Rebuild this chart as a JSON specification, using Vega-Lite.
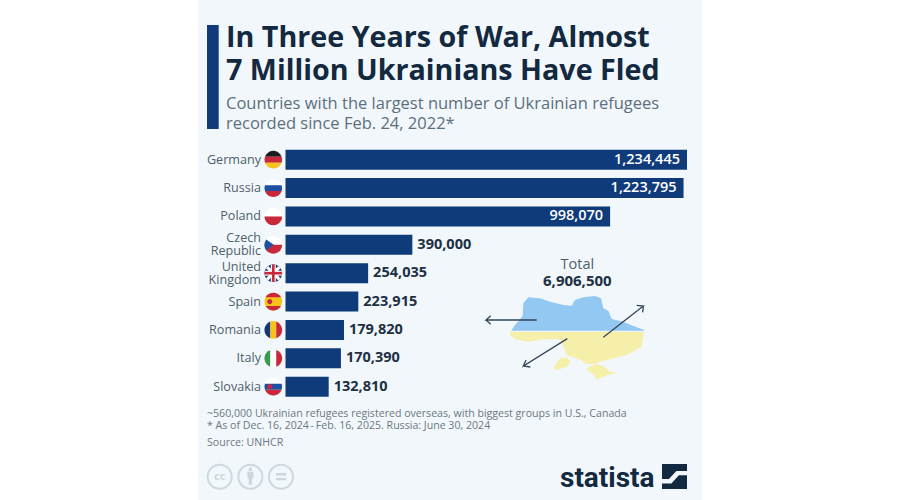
{
  "$schema": "https://vega.github.io/schema/vega-lite/v6.json",
  "autosize": "none",
  "padding": {"left": 198, "right": 198, "top": 0, "bottom": 0},
  "width": 504,
  "height": 500,
  "background": "#ffffff",
  "config": {
    "view": {"fill": "#f1f7fb", "stroke": null},
    "text": {"font": "Open Sans"},
    "axis": {"labelFont": "Open Sans"}
  },
  "title": {
    "text": ["In Three Years of War, Almost", "7 Million Ukrainians Have Fled"],
    "subtitle": ["Countries with the largest number of Ukrainian refugees", "recorded since Feb. 24, 2022*"],
    "anchor": "start",
    "frame": "group",
    "dx": 28,
    "offset": -132.5,
    "font": "Open Sans",
    "fontSize": 28.7,
    "fontWeight": 700,
    "color": "#13293f",
    "lineHeight": 33,
    "subtitleFont": "Open Sans",
    "subtitleFontSize": 16.5,
    "subtitleColor": "#5d6f7c",
    "subtitleLineHeight": 20.5,
    "subtitlePadding": 10
  },
  "datasets": {
    "countries": [
      {"country": "Germany", "label": "Germany", "refugees": 1234445},
      {"country": "Russia", "label": "Russia", "refugees": 1223795},
      {"country": "Poland", "label": "Poland", "refugees": 998070},
      {"country": "Czech Republic", "label": "Czech\nRepublic", "refugees": 390000},
      {"country": "United Kingdom", "label": "United\nKingdom", "refugees": 254035},
      {"country": "Spain", "label": "Spain", "refugees": 223915},
      {"country": "Romania", "label": "Romania", "refugees": 179820},
      {"country": "Italy", "label": "Italy", "refugees": 170390},
      {"country": "Slovakia", "label": "Slovakia", "refugees": 132810}
    ],
    "flags": [
      {"country": "Germany", "part": "hTop", "tint": "black"},
      {"country": "Germany", "part": "hMid", "tint": "red"},
      {"country": "Germany", "part": "hBot", "tint": "gold"},
      {"country": "Russia", "part": "hTop", "tint": "white"},
      {"country": "Russia", "part": "hMid", "tint": "blue"},
      {"country": "Russia", "part": "hBot", "tint": "red"},
      {"country": "Poland", "part": "upper", "tint": "white"},
      {"country": "Poland", "part": "lower", "tint": "red"},
      {"country": "Czech Republic", "part": "upper", "tint": "white"},
      {"country": "Czech Republic", "part": "lower", "tint": "red"},
      {"country": "Czech Republic", "part": "wedge", "tint": "blue"},
      {"country": "United Kingdom", "part": "disc", "tint": "navy"},
      {"country": "United Kingdom", "part": "diagA", "tint": "white"},
      {"country": "United Kingdom", "part": "diagB", "tint": "white"},
      {"country": "United Kingdom", "part": "crossWideV", "tint": "white"},
      {"country": "United Kingdom", "part": "crossWideH", "tint": "white"},
      {"country": "United Kingdom", "part": "crossV", "tint": "red"},
      {"country": "United Kingdom", "part": "crossH", "tint": "red"},
      {"country": "Spain", "part": "disc", "tint": "gold"},
      {"country": "Spain", "part": "capTop", "tint": "red"},
      {"country": "Spain", "part": "capBot", "tint": "red"},
      {"country": "Spain", "part": "crest", "tint": "red"},
      {"country": "Romania", "part": "vLeft", "tint": "navy"},
      {"country": "Romania", "part": "vMid", "tint": "gold"},
      {"country": "Romania", "part": "vRight", "tint": "red"},
      {"country": "Italy", "part": "vLeft", "tint": "green"},
      {"country": "Italy", "part": "vMid", "tint": "white"},
      {"country": "Italy", "part": "vRight", "tint": "red"},
      {"country": "Slovakia", "part": "hTop", "tint": "white"},
      {"country": "Slovakia", "part": "hMid", "tint": "blue"},
      {"country": "Slovakia", "part": "hBot", "tint": "red"},
      {"country": "Slovakia", "part": "crest", "tint": "red"}
    ],
    "ukraine": [
      {"part": "north", "region": "blue", "mapX": 155, "edgeA": 272, "edgeB": 270},
      {"part": "north", "region": "blue", "mapX": 165, "edgeA": 272, "edgeB": 255},
      {"part": "north", "region": "blue", "mapX": 180, "edgeA": 272, "edgeB": 238},
      {"part": "north", "region": "blue", "mapX": 188, "edgeA": 272, "edgeB": 228},
      {"part": "north", "region": "blue", "mapX": 190, "edgeA": 272, "edgeB": 190},
      {"part": "north", "region": "blue", "mapX": 205, "edgeA": 272, "edgeB": 172},
      {"part": "north", "region": "blue", "mapX": 240, "edgeA": 272, "edgeB": 175},
      {"part": "north", "region": "blue", "mapX": 270, "edgeA": 272, "edgeB": 185},
      {"part": "north", "region": "blue", "mapX": 310, "edgeA": 272, "edgeB": 195},
      {"part": "north", "region": "blue", "mapX": 335, "edgeA": 272, "edgeB": 197},
      {"part": "north", "region": "blue", "mapX": 345, "edgeA": 272, "edgeB": 180},
      {"part": "north", "region": "blue", "mapX": 370, "edgeA": 272, "edgeB": 172},
      {"part": "north", "region": "blue", "mapX": 405, "edgeA": 272, "edgeB": 168},
      {"part": "north", "region": "blue", "mapX": 423, "edgeA": 272, "edgeB": 175},
      {"part": "north", "region": "blue", "mapX": 430, "edgeA": 272, "edgeB": 205},
      {"part": "north", "region": "blue", "mapX": 445, "edgeA": 272, "edgeB": 212},
      {"part": "north", "region": "blue", "mapX": 455, "edgeA": 272, "edgeB": 237},
      {"part": "north", "region": "blue", "mapX": 490, "edgeA": 272, "edgeB": 245},
      {"part": "north", "region": "blue", "mapX": 520, "edgeA": 272, "edgeB": 258},
      {"part": "north", "region": "blue", "mapX": 553, "edgeA": 272, "edgeB": 270},
      {"part": "south", "region": "yellow", "mapX": 150, "edgeA": 275, "edgeB": 285},
      {"part": "south", "region": "yellow", "mapX": 165, "edgeA": 275, "edgeB": 298},
      {"part": "south", "region": "yellow", "mapX": 205, "edgeA": 275, "edgeB": 305},
      {"part": "south", "region": "yellow", "mapX": 250, "edgeA": 275, "edgeB": 298},
      {"part": "south", "region": "yellow", "mapX": 300, "edgeA": 275, "edgeB": 298},
      {"part": "south", "region": "yellow", "mapX": 310, "edgeA": 275, "edgeB": 320},
      {"part": "south", "region": "yellow", "mapX": 320, "edgeA": 275, "edgeB": 345},
      {"part": "south", "region": "yellow", "mapX": 365, "edgeA": 275, "edgeB": 362},
      {"part": "south", "region": "yellow", "mapX": 378, "edgeA": 275, "edgeB": 372},
      {"part": "south", "region": "yellow", "mapX": 400, "edgeA": 275, "edgeB": 372},
      {"part": "south", "region": "yellow", "mapX": 440, "edgeA": 275, "edgeB": 360},
      {"part": "south", "region": "yellow", "mapX": 500, "edgeA": 275, "edgeB": 345},
      {"part": "south", "region": "yellow", "mapX": 545, "edgeA": 275, "edgeB": 320},
      {"part": "south", "region": "yellow", "mapX": 552, "edgeA": 275, "edgeB": 275},
      {"part": "odessa", "region": "yellow", "mapX": 282, "edgeA": 380, "edgeB": 390},
      {"part": "odessa", "region": "yellow", "mapX": 300, "edgeA": 355, "edgeB": 387},
      {"part": "odessa", "region": "yellow", "mapX": 320, "edgeA": 352, "edgeB": 380},
      {"part": "odessa", "region": "yellow", "mapX": 332, "edgeA": 365, "edgeB": 365},
      {"part": "crimea", "region": "yellow", "mapX": 380, "edgeA": 385, "edgeB": 388},
      {"part": "crimea", "region": "yellow", "mapX": 405, "edgeA": 372, "edgeB": 408},
      {"part": "crimea", "region": "yellow", "mapX": 408, "edgeA": 372, "edgeB": 420},
      {"part": "crimea", "region": "yellow", "mapX": 430, "edgeA": 378, "edgeB": 410},
      {"part": "crimea", "region": "yellow", "mapX": 450, "edgeA": 395, "edgeB": 403},
      {"part": "crimea", "region": "yellow", "mapX": 467, "edgeA": 397, "edgeB": 400}
    ],
    "arrows": [
      {"arrow": "west", "seq": 1, "mapX": 230, "mapY": 240},
      {"arrow": "west", "seq": 2, "mapX": 78, "mapY": 240},
      {"arrow": "west", "seq": 3, "mapX": 92, "mapY": 227},
      {"arrow": "west", "seq": 4, "mapX": 78, "mapY": 240},
      {"arrow": "west", "seq": 5, "mapX": 92, "mapY": 253},
      {"arrow": "northeast", "seq": 1, "mapX": 430, "mapY": 292},
      {"arrow": "northeast", "seq": 2, "mapX": 550, "mapY": 198},
      {"arrow": "northeast", "seq": 3, "mapX": 530, "mapY": 196},
      {"arrow": "northeast", "seq": 4, "mapX": 550, "mapY": 198},
      {"arrow": "northeast", "seq": 5, "mapX": 548, "mapY": 217},
      {"arrow": "southwest", "seq": 1, "mapX": 322, "mapY": 296},
      {"arrow": "southwest", "seq": 2, "mapX": 190, "mapY": 378},
      {"arrow": "southwest", "seq": 3, "mapX": 198, "mapY": 360},
      {"arrow": "southwest", "seq": 4, "mapX": 190, "mapY": 378},
      {"arrow": "southwest", "seq": 5, "mapX": 211, "mapY": 381}
    ],
    "badges": [
      {"badge": "cc", "part": "ring"},
      {"badge": "by", "part": "ring"},
      {"badge": "nd", "part": "ring"},
      {"badge": "by", "part": "person"},
      {"badge": "nd", "part": "equals"}
    ],
    "logo": [
      {"part": "square", "tint": "navy"},
      {"part": "slash", "tint": "paper"}
    ]
  },
  "layer": [
    {
      "data": {"values": [{}]},
      "layer": [
        {
          "mark": {"type": "rect", "color": "#0f3b7a"},
          "encoding": {
            "x": {"datum": 9, "type": "quantitative", "scale": {"domain": [0, 504], "range": [0, 504], "nice": false}, "axis": null},
            "x2": {"datum": 20.7},
            "y": {"datum": 25, "type": "quantitative", "scale": {"domain": [0, 500], "range": [0, 500], "nice": false}, "axis": null},
            "y2": {"datum": 129}
          }
        },
        {
          "mark": {"type": "text", "align": "left", "fontSize": 10.6, "color": "#6b7882", "lineBreak": "\n", "lineHeight": 12.8, "baseline": "alphabetic"},
          "encoding": {
            "x": {"datum": 9, "type": "quantitative"},
            "y": {"datum": 416.7, "type": "quantitative"},
            "text": {"value": "~560,000 Ukrainian refugees registered overseas, with biggest groups in U.S., Canada\n* As of Dec. 16, 2024\u2009-\u2009Feb. 16, 2025. Russia: June 30, 2024"}
          }
        },
        {
          "mark": {"type": "text", "align": "left", "fontSize": 10.6, "color": "#6b7882", "baseline": "alphabetic"},
          "encoding": {
            "x": {"datum": 9, "type": "quantitative"},
            "y": {"datum": 445.7, "type": "quantitative"},
            "text": {"value": "Source: UNHCR"}
          }
        },
        {
          "mark": {"type": "text", "align": "left", "font": "Roboto", "fontWeight": 700, "fontSize": 28, "color": "#13293f", "baseline": "alphabetic"},
          "encoding": {
            "x": {"datum": 362, "type": "quantitative"},
            "y": {"datum": 487, "type": "quantitative"},
            "text": {"value": "statista"}
          }
        },
        {
          "mark": {"type": "text", "align": "center", "fontWeight": 700, "fontSize": 11, "color": "#cdd8de", "baseline": "middle"},
          "encoding": {
            "x": {"datum": 21.7, "type": "quantitative"},
            "y": {"datum": 476.7, "type": "quantitative"},
            "text": {"value": "cc"}
          }
        }
      ]
    },
    {
      "data": {"name": "badges"},
      "mark": {"type": "point", "size": 576, "opacity": 1, "strokeWidth": 2},
      "transform": [{"filter": "datum.part == 'ring'"}],
      "encoding": {
        "x": {"field": "badge", "type": "nominal", "scale": {"type": "point", "domain": ["cc", "by", "nd"], "range": [21.7, 83], "padding": 0}, "axis": null},
        "y": {"datum": 476.7, "type": "quantitative", "scale": {"domain": [0, 500], "range": [0, 500], "nice": false}, "axis": null},
        "color": {"value": "#cdd8de"}
      }
    },
    {
      "data": {"name": "badges"},
      "mark": {"type": "point", "size": 576, "filled": true, "opacity": 1},
      "transform": [{"filter": "datum.part != 'ring'"}],
      "encoding": {
        "x": {"field": "badge", "type": "nominal", "scale": {"type": "point", "domain": ["cc", "by", "nd"], "range": [21.7, 83], "padding": 0}, "axis": null},
        "y": {"datum": 476.7, "type": "quantitative", "scale": {"domain": [0, 500], "range": [0, 500], "nice": false}, "axis": null},
        "shape": {
          "field": "part",
          "type": "nominal",
          "legend": null,
          "scale": {
            "domain": ["person", "equals"],
            "range": [
              "M-.14,-.62L-.1,-.74L0,-.78L.1,-.74L.14,-.62L.1,-.5L0,-.46L-.1,-.5ZM-.25,-.42H.25V.12H.14V.68H-.14V.12H-.25Z",
              "M-.42,-.3H.42V-.1H-.42ZM-.42,.1H.42V.3H-.42Z"
            ]
          }
        },
        "color": {"value": "#cdd8de"}
      }
    },
    {
      "data": {"name": "logo"},
      "mark": {"type": "point", "size": 625, "filled": true, "opacity": 1},
      "encoding": {
        "x": {"datum": 476.5, "type": "quantitative", "scale": {"domain": [0, 504], "range": [0, 504], "nice": false}, "axis": null},
        "y": {"datum": 476.5, "type": "quantitative", "scale": {"domain": [0, 500], "range": [0, 500], "nice": false}, "axis": null},
        "shape": {
          "field": "part",
          "type": "nominal",
          "legend": null,
          "scale": {
            "domain": ["square", "slash"],
            "range": ["M-1,-1H1V1H-1Z", "M-1,.55H-.25L.35,-.1H1V-.45H.15L-.45,.2H-1Z"]
          }
        },
        "color": {
          "field": "tint",
          "type": "nominal",
          "legend": null,
          "scale": {"domain": ["navy", "paper"], "range": ["#13293f", "#f1f7fb"]}
        }
      }
    },
    {
      "data": {"name": "countries"},
      "encoding": {
        "x": {"field": "refugees", "type": "quantitative", "scale": {"domain": [0, 1234445], "range": [87.5, 489], "nice": false}, "axis": null},
        "y": {
          "field": "country",
          "type": "nominal",
          "sort": null,
          "axis": null,
          "scale": {
            "domain": ["Germany", "Russia", "Poland", "Czech Republic", "United Kingdom", "Spain", "Romania", "Italy", "Slovakia"],
            "range": [149.7, 396.7],
            "paddingInner": 0.295,
            "paddingOuter": 0
          }
        }
      },
      "layer": [
        {"mark": {"type": "bar", "color": "#0f3b7a"}, "encoding": {"x2": {"datum": 0}}},
        {
          "transform": [{"filter": "datum.refugees > 500000"}],
          "mark": {"type": "text", "align": "right", "dx": -7, "fontWeight": 600, "fontSize": 14.5, "color": "#ffffff"},
          "encoding": {"text": {"field": "refugees", "type": "quantitative", "format": ","}}
        },
        {
          "transform": [{"filter": "datum.refugees < 500000"}],
          "mark": {"type": "text", "align": "left", "dx": 5, "fontWeight": 700, "fontSize": 14.5, "color": "#1d3044"},
          "encoding": {"text": {"field": "refugees", "type": "quantitative", "format": ","}}
        },
        {
          "transform": [{"filter": "indexof(datum.label, '\\n') < 0"}],
          "mark": {"type": "text", "align": "right", "dx": -24.5, "fontSize": 12.6, "color": "#4f5f6a"},
          "encoding": {
            "x": {"datum": 0, "type": "quantitative"},
            "text": {"field": "label"}
          }
        },
        {
          "transform": [{"filter": "indexof(datum.label, '\\n') >= 0"}],
          "mark": {"type": "text", "align": "right", "dx": -24.5, "dy": -6.4, "fontSize": 12.6, "color": "#4f5f6a", "lineBreak": "\n", "lineHeight": 12.8},
          "encoding": {
            "x": {"datum": 0, "type": "quantitative"},
            "text": {"field": "label"}
          }
        }
      ]
    },
    {
      "data": {"name": "flags"},
      "mark": {"type": "point", "size": 313, "filled": true, "opacity": 1, "xOffset": -12.2},
      "encoding": {
        "x": {"datum": 0, "type": "quantitative", "scale": {"domain": [0, 1234445], "range": [87.5, 489], "nice": false}, "axis": null},
        "y": {
          "field": "country",
          "type": "nominal",
          "sort": null,
          "axis": null,
          "scale": {
            "type": "band",
            "domain": ["Germany", "Russia", "Poland", "Czech Republic", "United Kingdom", "Spain", "Romania", "Italy", "Slovakia"],
            "range": [149.7, 396.7],
            "paddingInner": 0.295,
            "paddingOuter": 0
          }
        },
        "shape": {
          "field": "part",
          "type": "nominal",
          "legend": null,
          "scale": {
            "domain": ["hTop", "hMid", "hBot", "upper", "lower", "wedge", "disc", "diagA", "diagB", "crossWideV", "crossWideH", "crossV", "crossH", "capTop", "capBot", "crest", "vLeft", "vMid", "vRight"],
            "range": [
              "M-.943,-.333L-.8,-.6L-.6,-.8L-.4,-.917L-.2,-.98L0,-1L.2,-.98L.4,-.917L.6,-.8L.8,-.6L.943,-.333Z",
              "M-.943,-.333L.943,-.333L1,0L.943,.333L-.943,.333L-1,0Z",
              "M-.943,.333L-.8,.6L-.6,.8L-.4,.917L-.2,.98L0,1L.2,.98L.4,.917L.6,.8L.8,.6L.943,.333Z",
              "M-1,0L-.95,-.31L-.8,-.6L-.6,-.8L-.3,-.954L0,-1L.3,-.954L.6,-.8L.8,-.6L.95,-.31L1,0Z",
              "M-1,0L-.95,.31L-.8,.6L-.6,.8L-.3,.954L0,1L.3,.954L.6,.8L.8,.6L.95,.31L1,0Z",
              "M-.8,-.6L.05,0L-.8,.6L-.92,.39L-.98,.2L-1,0L-.98,-.2L-.92,-.39Z",
              "M-1,0L-.95,-.31L-.8,-.6L-.6,-.8L-.3,-.954L0,-1L.3,-.954L.6,-.8L.8,-.6L.95,-.31L1,0L.95,.31L.8,.6L.6,.8L.3,.954L0,1L-.3,.954L-.6,.8L-.8,.6L-.95,.31Z",
              "M-.82,-.57L-.57,-.82L.82,.57L.57,.82Z",
              "M.82,-.57L.57,-.82L-.82,.57L-.57,.82Z",
              "M-.28,-.96H.28V.96H-.28Z",
              "M-.96,-.28H.96V.28H-.96Z",
              "M-.15,-.98H.15V.98H-.15Z",
              "M-.98,-.15H.98V.15H-.98Z",
              "M-.866,-.5L-.7,-.714L-.5,-.866L-.25,-.968L0,-1L.25,-.968L.5,-.866L.7,-.714L.866,-.5Z",
              "M-.866,.5L-.7,.714L-.5,.866L-.25,.968L0,1L.25,.968L.5,.866L.7,.714L.866,.5Z",
              "M-.7,0L-.61,-.21L-.4,-.3L-.19,-.21L-.1,0L-.19,.21L-.4,.3L-.61,.21Z",
              "M-.333,-.943L-.6,-.8L-.8,-.6L-.917,-.4L-.98,-.2L-1,0L-.98,.2L-.917,.4L-.8,.6L-.6,.8L-.333,.943Z",
              "M-.333,-.943L0,-1L.333,-.943L.333,.943L0,1L-.333,.943Z",
              "M.333,-.943L.6,-.8L.8,-.6L.917,-.4L.98,-.2L1,0L.98,.2L.917,.4L.8,.6L.6,.8L.333,.943Z"
            ]
          }
        },
        "color": {
          "field": "tint",
          "type": "nominal",
          "legend": null,
          "scale": {
            "domain": ["black", "red", "gold", "white", "blue", "navy", "green"],
            "range": ["#1c1c1c", "#c8283a", "#f6c21c", "#ffffff", "#1f4fa0", "#17356f", "#3a9a50"]
          }
        }
      }
    },
    {
      "data": {"name": "ukraine"},
      "mark": {"type": "area", "opacity": 1},
      "encoding": {
        "x": {"field": "mapX", "type": "quantitative", "scale": {"domain": [0, 720], "range": [262, 502], "nice": false}, "axis": null},
        "y": {"field": "edgeA", "type": "quantitative", "scale": {"domain": [0, 480], "range": [240, 400], "nice": false}, "axis": null},
        "y2": {"field": "edgeB"},
        "detail": {"field": "part"},
        "color": {
          "field": "region",
          "type": "nominal",
          "legend": null,
          "scale": {"domain": ["blue", "yellow"], "range": ["#93c8f2", "#f6efa9"]}
        }
      }
    },
    {
      "data": {"name": "arrows"},
      "mark": {"type": "line", "color": "#33465a", "strokeWidth": 1.3},
      "encoding": {
        "x": {"field": "mapX", "type": "quantitative", "scale": {"domain": [0, 720], "range": [262, 502], "nice": false}, "axis": null},
        "y": {"field": "mapY", "type": "quantitative", "scale": {"domain": [0, 480], "range": [240, 400], "nice": false}, "axis": null},
        "detail": {"field": "arrow"},
        "order": {"field": "seq"}
      }
    },
    {
      "data": {"values": [{}]},
      "layer": [
        {
          "mark": {"type": "text", "align": "center", "fontSize": 14.5, "color": "#4f5f6a"},
          "encoding": {
            "x": {"datum": 352, "type": "quantitative", "scale": {"domain": [0, 720], "range": [262, 502], "nice": false}, "axis": null},
            "y": {"datum": 75, "type": "quantitative", "scale": {"domain": [0, 480], "range": [240, 400], "nice": false}, "axis": null},
            "text": {"value": "Total"}
          }
        },
        {
          "mark": {"type": "text", "align": "center", "fontWeight": 700, "fontSize": 15, "color": "#1d3044"},
          "encoding": {
            "x": {"datum": 352, "type": "quantitative"},
            "y": {"datum": 122, "type": "quantitative"},
            "text": {"value": "6,906,500"}
          }
        }
      ]
    }
  ],
  "resolve": {
    "scale": {"x": "independent", "y": "independent", "color": "independent", "shape": "independent"}
  }
}
